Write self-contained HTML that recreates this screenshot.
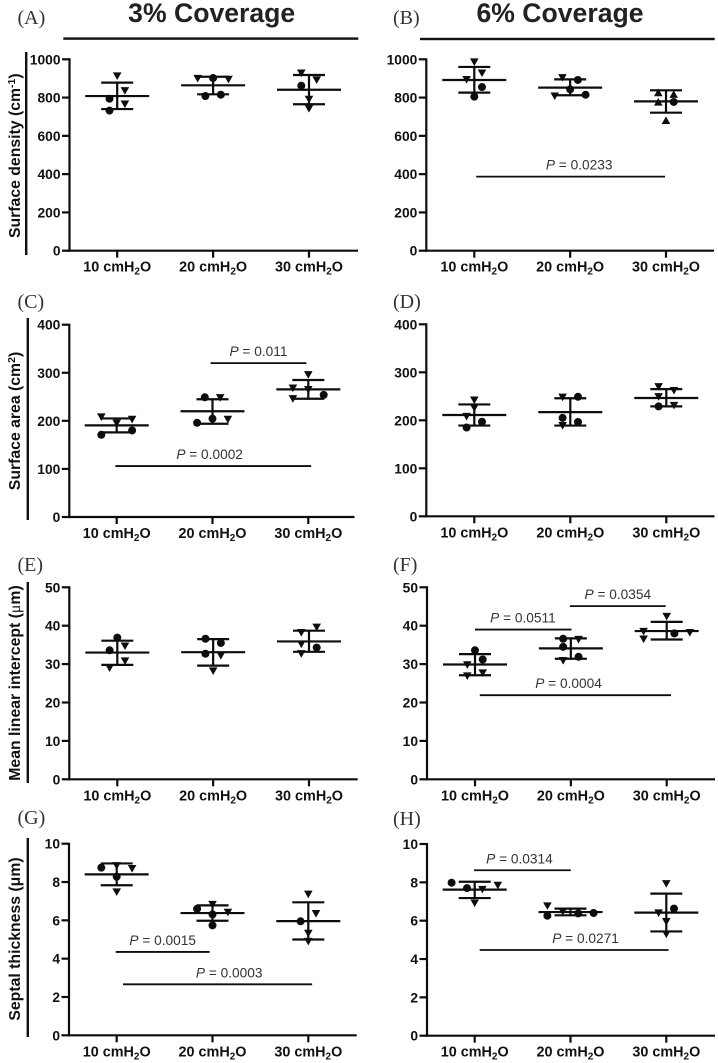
<!DOCTYPE html>
<html lang="en">
<head>
<meta charset="utf-8">
<title>Coverage charts</title>
<style>
html,body{margin:0;padding:0;background:#fff;}
svg{display:block;}
text{font-family:"Liberation Sans",sans-serif;}
.tick{font-weight:700;font-size:13.8px;fill:#111;text-anchor:end;}
.cat{font-weight:700;font-size:14.4px;fill:#111;text-anchor:middle;}
.ptext{font-size:13.7px;fill:#333;text-anchor:middle;}
.ytitle{font-weight:700;font-size:15.8px;fill:#111;text-anchor:middle;}
.letter{font-family:"Liberation Serif",serif;font-size:20px;fill:#333;}
.head{font-weight:700;font-size:26.6px;fill:#222;text-anchor:middle;}
</style>
</head>
<body>
<svg id="figure" width="718" height="1063" viewBox="0 0 718 1063" xmlns="http://www.w3.org/2000/svg">
  <rect width="718" height="1063" fill="#fff"/>
  <text class="head" x="211.7" y="22">3% Coverage</text>
  <text class="head" x="560" y="22">6% Coverage</text>
  <rect x="63.3" y="37.4" width="295" height="2.4" fill="#111"/>
  <rect x="420" y="37.8" width="294.7" height="2.4" fill="#111"/>

  <text class="letter" x="17.5" y="24">(A)</text>
  <text class="letter" x="393" y="24">(B)</text>
  <text class="letter" x="17.5" y="308">(C)</text>
  <text class="letter" x="393" y="308">(D)</text>
  <text class="letter" x="17.5" y="571">(E)</text>
  <text class="letter" x="393" y="571">(F)</text>
  <text class="letter" x="17.5" y="824">(G)</text>
  <text class="letter" x="393" y="825">(H)</text>

  <rect x="25" y="52" width="2.4" height="203" fill="#111"/>
  <rect x="26.6" y="318" width="2.4" height="202" fill="#111"/>
  <rect x="26.6" y="582" width="2.4" height="201" fill="#111"/>
  <rect x="26.6" y="838" width="2.4" height="199" fill="#111"/>

  <text class="ytitle" transform="translate(20,155.7) rotate(-90)">Surface density (cm<tspan dy="-5" font-size="10.5">-1</tspan><tspan dy="5">)</tspan></text>
  <text class="ytitle" transform="translate(20,421) rotate(-90)">Surface area (cm<tspan dy="-5" font-size="10.5">2</tspan><tspan dy="5">)</tspan></text>
  <text class="ytitle" transform="translate(20,683) rotate(-90)">Mean linear intercept (<tspan font-family="Liberation Serif" font-weight="400">μ</tspan>m)</text>
  <text class="ytitle" transform="translate(20,939) rotate(-90)">Septal thickness (μm)</text>
</svg>
<script>
/* ---------- shared data ---------- */
const categories = ['10', '20', '30'];
const densityTicks = [0, 200, 400, 600, 800, 1000];
const areaTicks = [0, 100, 200, 300, 400];
const interceptTicks = [0, 10, 20, 30, 40, 50];
const thicknessTicks = [0, 2, 4, 6, 8, 10];

/* Marker kinds: c = circle, v = down triangle, u = up triangle.
   Swarm ranks are integer beeswarm columns, one rank per point. */

/* Panel A */
const aValues = [[913,836,794,766,732],[900,902,895,808,815],[928,892,862,791,742]];
const aKinds = ['vvcvc','vcvcc','vvcvv'];
const aRanks = [[0,1,-1,1,-1],[-2,0,2,-1,1],[-1,1,-1,0,0]];
const aMeans = [808,864,841];
const aUpper = [878,909,918];
const aLower = [740,817,765];
const aPValues = [];

/* Panel B */
const bValues = [[986,928,894,855,805],[904,892,843,815,808],[826,817,777,777,681]];
const bKinds = ['vvvcc','vcccv','uuucu'];
const bRanks = [[0,1,-1,1,0],[-1,1,0,2,-2],[-1,1,-1,1,0]];
const bMeans = [892,852,780];
const bUpper = [960,895,838];
const bLower = [826,812,721];
const bPValues = [['0.0233',0.02,1.99,387,1.094]];

/* Panel C */
const cValues = [[208,203,195,180,171],[249,248,204.5,203,196],[296,268,265,254,246]];
const cKinds = ['vvvcc','cvcvc','vvvcv'];
const cRanks = [[-2,2,0,2,-2],[-1,1,0,2,-2],[0,-2,0,2,-2]];
const cMeans = [190.6,220,265.5];
const cUpper = [205,245,285];
const cLower = [176,194,246];
const cPValues = [['0.011',0.98,1.98,320,1.48],['0.0002',-0.014,2.03,106,0.97]];

/* Panel D */
const dValues = [[242,226,208,197,185],[248,249,205,196.5,189],[270,262,249,229,231]];
const dKinds = ['vvvcc','vcccv','vvvcv'];
const dRanks = [[0,0,-1,1,-1],[-1,1,-1,1,-1],[-1,1,-1,-1,1]];
const dMeans = [211,217,246.5];
const dUpper = [233,246,265];
const dLower = [189,189,229];
const dPValues = [];

/* Panel E */
const eValues = [[36.9,34.7,33.6,30.8,29],[36.6,35.5,32.7,32.2,28.2],[39.6,38.2,35.2,34.3,32.7]];
const eKinds = ['cvcvv','cccvv','vvvcv'];
const eRanks = [[0,1,-1,1,-1],[-1,1,-1,1,0],[1,-1,-1,1,-1]];
const eMeans = [33,33.1,35.9];
const eUpper = [36.1,36.5,38.7];
const eLower = [29.8,29.6,33.2];
const ePValues = [];

/* Panel F */
const fValues = [[33.6,31.2,29.8,27.7,26.9],[36.6,36.4,34.5,31.9,30.9],[42.4,38.5,38.2,38,36.5]];
const fKinds = ['ccvvv','cvccv','vvvcv'];
const fRanks = [[0,1,-1,1,-1],[-1,1,-1,1,-1],[0,-3,3,1,-3]];
const fMeans = [29.9,34.1,38.6];
const fUpper = [32.6,36.7,41];
const fLower = [27.1,31.4,36.4];
const fPValues = [['0.0354',0.99,1.99,45.1,1.49],['0.0511',0,1.007,39,0.5],['0.0004',0.05,2.045,21.9,0.976]];

/* Panel G */
const gValues = [[8.75,8.85,8.7,8.28,7.48],[6.83,6.6,6.42,6.31,5.74],[7.36,6.35,5.95,5.32,4.9]];
const gKinds = ['cvvcv','vcvcc','vvcvv'];
const gRanks = [[-2,0,2,0,0],[0,-2,2,0,0],[0,1,-1,0,0]];
const gMeans = [8.4,6.38,5.96];
const gUpper = [8.97,6.78,6.94];
const gLower = [7.83,5.98,5];
const gPValues = [['0.0015',-0.01,0.97,4.35,0.48],['0.0003',0.066,2.04,2.66,1.174]];

/* Panel H */
const hValues = [[7.98,7.7,7.63,7.84,6.92],[6.77,6.26,6.47,6.38,6.4],[7.93,6.63,6.4,5.95,5.3]];
const hKinds = ['ccvvv','vcvcc','vcvvv'];
const hRanks = [[-3,-1,1,3,0],[-3,-3,-1,1,3],[0,1,-1,0,0]];
const hMeans = [7.62,6.45,6.42];
const hUpper = [8.03,6.63,7.41];
const hLower = [7.18,6.28,5.44];
const hPValues = [['0.0314',-0.007,1.003,8.63,0.467],['0.0271',0.052,2.024,4.47,1.157]];

/* ---------- drawing ---------- */
const SVG_NS = 'http://www.w3.org/2000/svg';
const figure = document.getElementById('figure');
const INK = '#0d0d0d';
const SWARM_STEP = 7.7;
const MEAN_HALF = 32;
const SD_HALF = 16;
const STROKE = 2.2;

function make(parent, tag, attrs) {
  const el = document.createElementNS(SVG_NS, tag);
  for (const k in attrs) el.setAttribute(k, attrs[k]);
  parent.appendChild(el);
  return el;
}

function line(parent, x1, y1, x2, y2, w) {
  return make(parent, 'line', { x1: x1, y1: y1, x2: x2, y2: y2, stroke: INK, 'stroke-width': w });
}

function marker(parent, kind, x, y) {
  if (kind === 'c') {
    return make(parent, 'circle', { cx: x, cy: y, r: 4, fill: INK });
  }
  const s = kind === 'v' ? 1 : -1;
  const pts = [[x - 4.3, y - 3.6 * s], [x + 4.3, y - 3.6 * s], [x, y + 4 * s]];
  return make(parent, 'polygon', { points: pts.map(p => p.join(',')).join(' '), fill: INK });
}

function drawPanel(id, box, ticks, values, kinds, ranks, means, upper, lower, pValues) {
  const maxV = ticks[ticks.length - 1];
  const yScale = v => box.bottom - (v / maxV) * (box.bottom - box.top);
  const xScale = c => box.first + c * (box.last - box.first) / 2;

  const g = make(figure, 'g', {});
  
  

  const yAxis = line(g, box.axis, box.top - 1, box.axis, box.bottom + 1, STROKE);
  
  

  const xAxis = line(g, box.axis - 1, box.bottom, box.right, box.bottom, STROKE);
  
  

  ticks.forEach(function (t) {
    const y = yScale(t);
    const tk = line(g, box.axis - 7.5, y, box.axis, y, STROKE);
    
    
    const lb = make(g, 'text', { class: 'tick', x: box.axis - 9, y: y + 5 });
    lb.textContent = String(t);
    
    
  });

  categories.forEach(function (cat, c) {
    const x = xScale(c);
    const tk = line(g, x, box.bottom, x, box.bottom + 7, STROKE);
    
    

    const lb = make(g, 'text', { class: 'cat', x: x, y: box.bottom + 21 });
    
    
    lb.appendChild(document.createTextNode(cat + ' cmH'));
    const sub = make(lb, 'tspan', { dy: 3, 'font-size': 10 });
    sub.textContent = '2';
    const o = make(lb, 'tspan', { dy: -3 });
    o.textContent = 'O';

    const group = make(g, 'g', {});
    
    

    const stem = line(group, x, yScale(upper[c]), x, yScale(lower[c]), STROKE);
    
    

    const up = line(group, x - SD_HALF, yScale(upper[c]), x + SD_HALF, yScale(upper[c]), STROKE);
    
    

    const low = line(group, x - SD_HALF, yScale(lower[c]), x + SD_HALF, yScale(lower[c]), STROKE);
    
    

    const mean = line(group, x - MEAN_HALF, yScale(means[c]), x + MEAN_HALF, yScale(means[c]), STROKE);
    
    

    values[c].forEach(function (v, i) {
      const m = marker(group, kinds[c][i], x + ranks[c][i] * SWARM_STEP, yScale(v));
      
      
    });
  });

  pValues.forEach(function (p) {
    const y = yScale(p[3]);
    const bar = line(g, xScale(p[1]), y, xScale(p[2]), y, 1.8);
    
    

    const txt = make(g, 'text', { class: 'ptext', x: xScale(p[4]), y: y - 7 });
    
    
    const pi = make(txt, 'tspan', { 'font-style': 'italic' });
    pi.textContent = 'P';
    txt.appendChild(document.createTextNode(' = ' + p[0]));
  });
}

drawPanel('a', { axis: 69.5, right: 358, top: 59.3, bottom: 250.7, first: 117.2, last: 309 }, densityTicks, aValues, aKinds, aRanks, aMeans, aUpper, aLower, aPValues);
drawPanel('b', { axis: 426.3, right: 714, top: 59.3, bottom: 250.7, first: 474.3, last: 666 }, densityTicks, bValues, bKinds, bRanks, bMeans, bUpper, bLower, bPValues);
drawPanel('c', { axis: 69.3, right: 354.5, top: 324.7, bottom: 517, first: 116.7, last: 308.3 }, areaTicks, cValues, cKinds, cRanks, cMeans, cUpper, cLower, cPValues);
drawPanel('d', { axis: 426.3, right: 714.5, top: 324.3, bottom: 516.3, first: 474.3, last: 666.3 }, areaTicks, dValues, dKinds, dRanks, dMeans, dUpper, dLower, dPValues);
drawPanel('e', { axis: 69.3, right: 357.7, top: 587.3, bottom: 779.3, first: 117.3, last: 309 }, interceptTicks, eValues, eKinds, eRanks, eMeans, eUpper, eLower, ePValues);
drawPanel('f', { axis: 427, right: 715, top: 587.3, bottom: 779.3, first: 475, last: 666.7 }, interceptTicks, fValues, fKinds, fRanks, fMeans, fUpper, fLower, fPValues);
drawPanel('g', { axis: 69, right: 356.7, top: 843.7, bottom: 1035.3, first: 116.7, last: 308.3 }, thicknessTicks, gValues, gKinds, gRanks, gMeans, gUpper, gLower, gPValues);
drawPanel('h', { axis: 427, right: 715, top: 844, bottom: 1035.7, first: 474.7, last: 666.3 }, thicknessTicks, hValues, hKinds, hRanks, hMeans, hUpper, hLower, hPValues);
</script>
</body>
</html>
